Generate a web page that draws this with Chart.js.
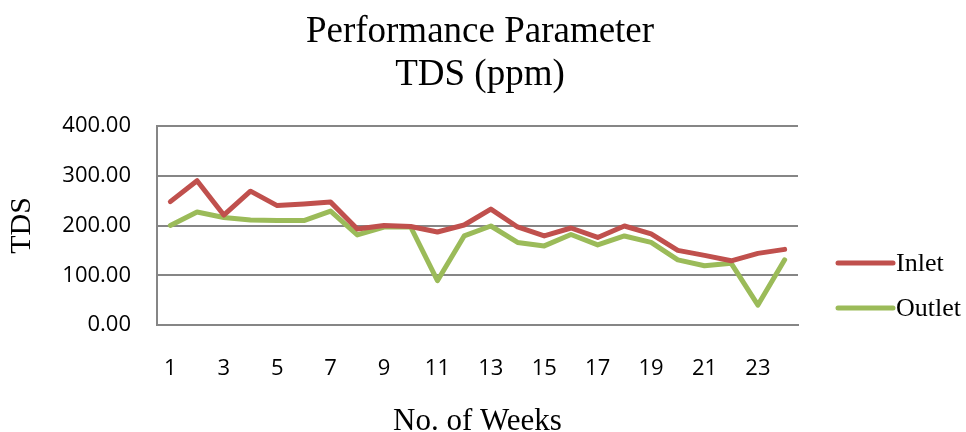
<!DOCTYPE html>
<html>
<head>
<meta charset="utf-8">
<script src="https://cdn.jsdelivr.net/npm/chart.js@4/dist/chart.umd.min.js"></script>
<style>
  html, body { margin: 0; padding: 0; background: #fff; }
  #wrap { width: 966px; height: 432px; }
</style>
</head>
<body>
<div id="wrap"><canvas id="c" width="966" height="432"></canvas></div>
<script>
const weeks = [1, 2, 3, 4, 5, 6, 7, 8, 9, 10, 11, 12, 13, 14, 15, 16, 17, 18, 19, 20, 21, 22, 23, 24];
const inlet = [248, 290, 221, 269, 240, 243, 247, 193, 200, 198, 187, 201, 233, 197, 179, 195, 176, 199, 183, 150, 140, 129, 144, 152];
const outlet = [200, 227, 216, 211, 210, 210, 229, 181, 197, 197, 89, 179, 199, 166, 159, 182, 161, 179, 166, 131, 119, 124, 40, 131];
const yTicks = [0, 100, 200, 300, 400];
const titleLines = ['Performance Parameter', 'TDS (ppm)'];

const serif = '"Liberation Serif", "Times New Roman", serif';
const sans = '"Open Sans", sans-serif';

const chartTitle = {
  id: 'chartTitle',
  afterDraw(chart) {
    const ctx = chart.ctx;
    ctx.save();
    ctx.fillStyle = '#000';
    ctx.font = '37px ' + serif;
    ctx.textAlign = 'center';
    ctx.textBaseline = 'alphabetic';
    titleLines.forEach((t, i) => ctx.fillText(t, 480, 42 + i * 43));
    ctx.restore();
  }
};

const sideLegend = {
  id: 'sideLegend',
  afterDraw(chart) {
    const ctx = chart.ctx;
    const ca = chart.chartArea;
    const x0 = ca.right + 40;
    const ys = [ca.top + 137, ca.top + 182];
    ctx.save();
    chart.data.datasets.forEach((ds, i) => {
      const y = ys[i];
      ctx.strokeStyle = ds.borderColor;
      ctx.lineWidth = 5;
      ctx.lineCap = 'round';
      ctx.beginPath();
      ctx.moveTo(x0, y);
      ctx.lineTo(x0 + 55, y);
      ctx.stroke();
      ctx.fillStyle = '#000';
      ctx.font = '26px ' + serif;
      ctx.textBaseline = 'middle';
      ctx.textAlign = 'left';
      ctx.fillText(ds.label, x0 + 58, y + 1);
    });
    ctx.restore();
  }
};

new Chart(document.getElementById('c'), {
  type: 'line',
  data: {
    labels: weeks,
    datasets: [
      { label: 'Inlet', data: inlet, borderColor: '#C0504D', backgroundColor: '#C0504D' },
      { label: 'Outlet', data: outlet, borderColor: '#9BBB59', backgroundColor: '#9BBB59' }
    ]
  },
  options: {
    responsive: false,
    animation: false,
    layout: { padding: { top: 126, right: 168, left: 0, bottom: 0 } },
    elements: {
      line: { borderWidth: 5, tension: 0, borderCapStyle: 'round', borderJoinStyle: 'round' },
      point: { radius: 0, hoverRadius: 0 }
    },
    plugins: {
      legend: { display: false },
      tooltip: { enabled: false },
      title: { display: false }
    },
    scales: {
      x: {
        type: 'category',
        offset: true,
        grid: { display: false, drawTicks: false },
        border: { display: true, color: '#868686', width: 2 },
        ticks: {
          autoSkip: false,
          maxRotation: 0,
          padding: 31,
          color: '#000',
          font: { family: sans, size: 22 },
          callback: function (value, index) { return index % 2 === 0 ? String(weeks[index]) : ''; }
        },
        title: {
          display: true,
          text: 'No. of Weeks',
          color: '#000',
          font: { family: serif, size: 31, lineHeight: 0.65 },
          padding: { top: 0, bottom: 0 }
        },
        afterFit(scale) { scale.height = 107; }
      },
      y: {
        min: 0,
        max: 400,
        afterBuildTicks(scale) { scale.ticks = yTicks.map(v => ({ value: v })); },
        grid: { color: '#868686', lineWidth: 2, drawTicks: false },
        border: { display: true, color: '#868686', width: 2 },
        ticks: {
          padding: 26,
          color: '#000',
          font: { family: sans, size: 22 },
          callback: v => Number(v).toFixed(2)
        },
        title: {
          display: true,
          text: 'TDS',
          color: '#000',
          font: { family: serif, size: 30, lineHeight: 1.2 },
          padding: { top: 4, bottom: 0 }
        },
        afterFit(scale) { scale.width = 157; }
      }
    }
  },
  plugins: [sideLegend, chartTitle]
});
</script>
</body>
</html>
